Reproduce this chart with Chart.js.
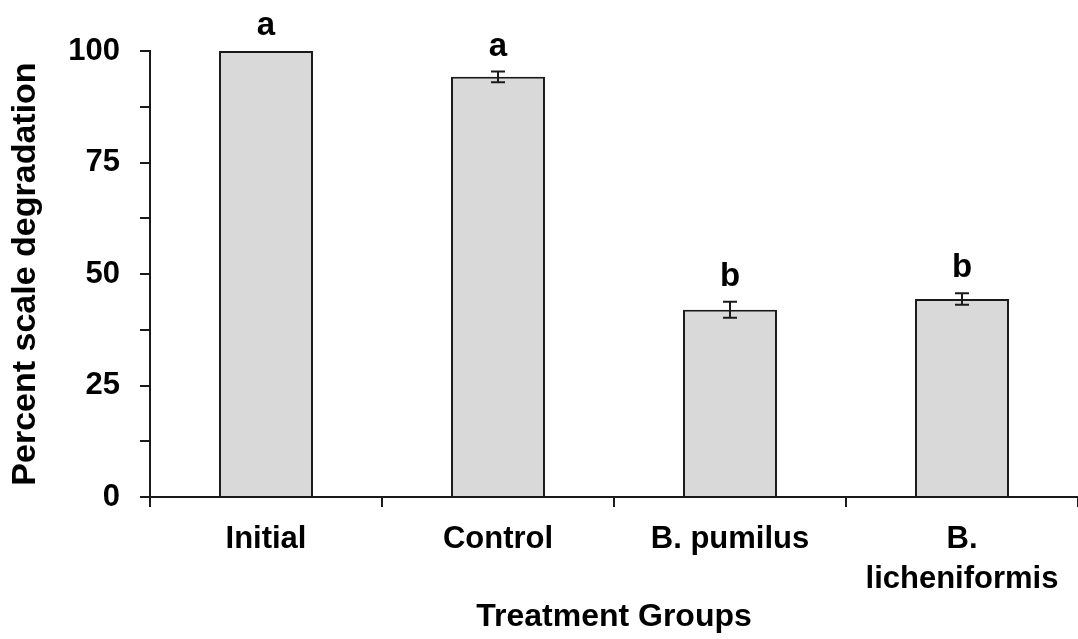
<!DOCTYPE html>
<html>
<head>
<meta charset="utf-8">
<script src="https://cdn.jsdelivr.net/npm/chart.js@4/dist/chart.umd.min.js"></script>
<style>
  html, body { margin: 0; padding: 0; background: #fff; overflow: hidden; }
  #c { position: absolute; left: 0; top: 0; }
</style>
</head>
<body>
<canvas id="c" width="1078" height="639"></canvas>
<script>
const categories = ['Initial', 'Control', 'B. pumilus', ['B.', 'licheniformis']];
const values = [100, 94.2, 42.0, 44.4];
const errors = [0, 1.2, 1.8, 1.3];
const letters = ['a', 'a', 'b', 'b'];
const yTickStep = 12.5;
const yLabelStep = 25;

const FONT = 'Arial, "Liberation Sans", sans-serif';
const INK = '#1a1a1a';

const annotations = {
  id: 'annotations',
  afterDraw(chart) {
    const { ctx, scales: { x, y } } = chart;
    ctx.save();
    ctx.strokeStyle = INK;
    ctx.lineWidth = 2;
    values.forEach((v, i) => {
      const cx = x.getPixelForValue(i);
      const e = errors[i];
      const yt = y.getPixelForValue(v + e);
      if (e > 0) {
        const yb = y.getPixelForValue(v - e);
        ctx.beginPath();
        ctx.moveTo(cx, yt); ctx.lineTo(cx, yb);
        ctx.moveTo(cx - 7, yt); ctx.lineTo(cx + 7, yt);
        ctx.moveTo(cx - 7, yb); ctx.lineTo(cx + 7, yb);
        ctx.stroke();
      }
      ctx.fillStyle = '#000';
      ctx.font = 'bold 33px ' + FONT;
      ctx.textAlign = 'center';
      ctx.textBaseline = 'alphabetic';
      ctx.fillText(letters[i], cx, yt - 16);
    });
    ctx.restore();
  }
};

new Chart(document.getElementById('c'), {
  type: 'bar',
  data: {
    labels: categories,
    datasets: [{
      data: values,
      backgroundColor: '#d9d9d9',
      borderColor: INK,
      borderWidth: 2,
      barPercentage: 0.405,
      categoryPercentage: 1
    }]
  },
  options: {
    responsive: false,
    animation: false,
    events: [],
    layout: { padding: { top: 51, right: 0, bottom: 0, left: 5 } },
    plugins: { legend: { display: false }, tooltip: { enabled: false } },
    scales: {
      x: {
        grid: { display: true, drawOnChartArea: false, drawTicks: true, tickLength: 10, color: INK, lineWidth: 2, offset: true },
        border: { display: true, color: INK, width: 2 },
        ticks: { color: '#000', font: { family: FONT, size: 31, weight: 'bold', lineHeight: 1.3 }, padding: 12, maxRotation: 0, autoSkip: false },
        title: { display: true, text: 'Treatment Groups', color: '#000', font: { family: FONT, size: 32, weight: 'bold', lineHeight: 1.2 }, padding: { top: 0, bottom: 3 } },
        afterFit(scale) { scale.height = 142; }
      },
      y: {
        min: 0,
        max: 100,
        grid: { display: true, drawOnChartArea: false, drawTicks: true, tickLength: 10, color: INK, lineWidth: 2 },
        border: { display: true, color: INK, width: 2 },
        ticks: {
          stepSize: yTickStep,
          color: '#000',
          font: { family: FONT, size: 31, weight: 'bold' },
          padding: 20,
          callback: (v) => (v % yLabelStep === 0 ? String(v) : '')
        },
        title: { display: true, text: 'Percent scale degradation', color: '#000', font: { family: FONT, size: 34, weight: 'bold', lineHeight: 1.2 }, padding: { top: 0, bottom: 0 } },
        afterFit(scale) { scale.width = 145; }
      }
    }
  },
  plugins: [annotations]
});
</script>
</body>
</html>
